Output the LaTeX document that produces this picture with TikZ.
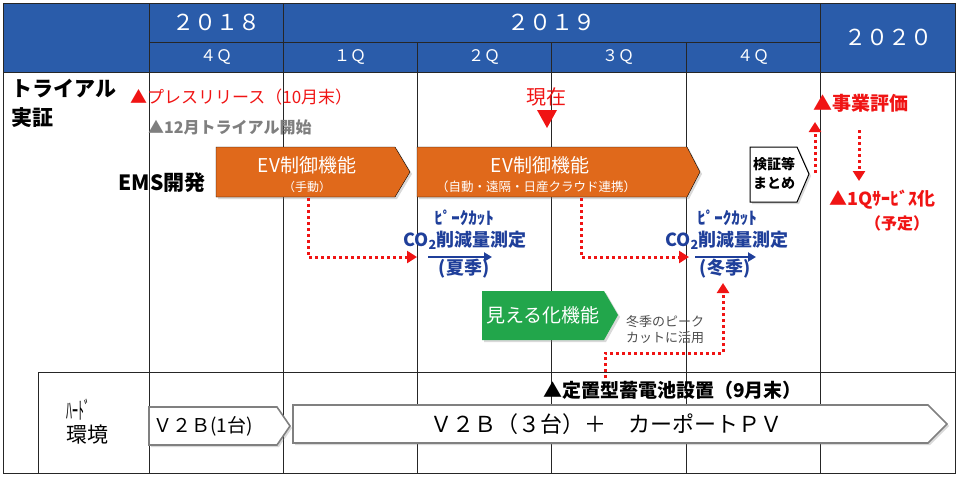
\documentclass[tikz,border=0pt]{standalone}
\usepackage{fontspec}
\setmainfont{Noto Sans CJK JP}
\usepackage{xcolor}
\usepackage{graphicx}
\definecolor{headblue}{HTML}{2A5CAA}
\definecolor{emsorange}{HTML}{E0691B}
\definecolor{viewgreen}{HTML}{22A64B}
\definecolor{navytext}{HTML}{1F3F9A}
\definecolor{alertred}{HTML}{F01414}
\definecolor{notegrey}{HTML}{7F7F7F}
\usetikzlibrary{arrows.meta,shadows}
\newcommand{\fsz}[1]{\fontsize{#1}{#1}\selectfont}

\begin{document}
\begin{tikzpicture}[x=1pt,y=-1pt,
  grid/.style={line width=0.9pt,black!85},
  hdtext/.style={text=white,inner sep=0pt,font=\fsz{22}},
  qtext/.style={text=white,inner sep=0pt,font=\fsz{16}},
  lbl/.style={inner sep=0pt,font=\bfseries\fsz{21}},
  orangebox/.style={fill=emsorange,drop shadow={opacity=0.3,shadow xshift=2pt,shadow yshift=-2pt}},
  hardbox/.style={fill=white,draw=black!50,line width=1.6pt,drop shadow={opacity=0.3,shadow xshift=2pt,shadow yshift=-2pt}},
  boxtext/.style={text=white,inner sep=0pt,font=\fsz{19}},
  subtext/.style={text=white,inner sep=0pt,font=\fsz{12}},
  bluetext/.style={text=navytext,inner sep=0pt,font=\bfseries\fsz{18}},
  redtext/.style={text=alertred,inner sep=0pt},
  reddot/.style={alertred,line width=3pt,dash pattern=on 3pt off 3pt,-{Triangle[length=10pt,width=12pt]}},
  bluearrow/.style={navytext,line width=2.4pt,-{Triangle[length=8pt,width=9pt]}}]
  \useasboundingbox (0,0) rectangle (960,479);

  % Header
  \fill[headblue] (3,3) rectangle (955,72);
  \node[hdtext] (y18) at (216,22) {２０１８};
  \node[hdtext] (y19) at (551,22) {２０１９};
  \node[hdtext] (y20) at (888,37) {２０２０};
  \node[qtext] (q4a) at (216,57) {４Ｑ};
  \node[qtext] (q1) at (350,57) {１Ｑ};
  \node[qtext] (q2) at (484,57) {２Ｑ};
  \node[qtext] (q3) at (618,57) {３Ｑ};
  \node[qtext] (q4b) at (753,57) {４Ｑ};

  % Grid
  \draw[grid] (3,3) rectangle (955,473);
  \draw[grid] (3,72) -- (955,72);
  \draw[grid] (149,42) -- (820,42);
  \foreach \x in {149,283,820} \draw[grid] (\x,3) -- (\x,473);
  \foreach \x in {417,551,686} \draw[grid] (\x,42) -- (\x,473);
  \draw[grid] (38,473) -- (38,372) -- (955,372);

  % Trial
  \node[lbl,align=left,anchor=west,font=\bfseries\fontsize{21}{29}\selectfont] (trial) at (11,103) {トライアル\\実証};
  \node[redtext,anchor=west,font=\fsz{17}] (press) at (130,97) {▲プレスリリース（10月末）};
  \node[anchor=west,inner sep=0pt,text=notegrey,font=\bfseries\fsz{16}] (start) at (148,127) {▲12月トライアル開始};
  \node[redtext,font=\fsz{20}] (now) at (546,97) {現在};
  \fill[alertred] (537,110) -- (557,110) -- (547,128) -- cycle;

  % EMS
  \node[lbl,anchor=east] (ems) at (206,183) {EMS開発};
  \draw[orangebox] (216,147) -- (395,147) -- (410,172) -- (395,197) -- (216,197) -- cycle;
  \node[boxtext] (ev1) at (307,165) {EV制御機能};
  \node[subtext] (ev1s) at (307,187) {（手動）};
  \draw[orangebox] (417,147) -- (687,147) -- (700,172) -- (687,197) -- (417,197) -- cycle;
  \node[boxtext] (ev2) at (540,165) {EV制御機能};
  \node[subtext,font=\fsz{12.5}] (ev2s) at (536,187) {（自動・遠隔・日産クラウド連携）};
  \draw[fill=white,line width=1pt,drop shadow={opacity=0.3,shadow xshift=2pt,shadow yshift=-2pt}] (750,147) -- (797,147) -- (809,174) -- (797,202) -- (750,202) -- cycle;
  \node[inner sep=0pt,align=center,font=\bfseries\fontsize{14}{19}\selectfont] (check) at (774,173) {検証等\\まとめ};

  % Peak cut measurement
  \node[bluetext,font=\bfseries\fsz{17}] (pc1) at (464,218) {ﾋﾟｰｸｶｯﾄ};
  \node[bluetext] (co1) at (465,240) {CO\textsubscript{2}削減量測定};
  \coordinate (a1s) at (428,257);
  \coordinate (a1e) at (492,257);
  \draw[bluearrow] (a1s) -- (a1e);
  \node[bluetext] (ss1) at (464,269) {(夏季)};
  \node[bluetext,font=\bfseries\fsz{17}] (pc2) at (727,218) {ﾋﾟｰｸｶｯﾄ};
  \node[bluetext] (co2) at (727,240) {CO\textsubscript{2}削減量測定};
  \coordinate (a2s) at (695,257);
  \coordinate (a2e) at (756,257);
  \draw[bluearrow] (a2s) -- (a2e);
  \node[bluetext] (ss2) at (725,269) {(冬季)};

  % Visualisation
  \draw[fill=viewgreen,drop shadow={opacity=0.3,shadow xshift=2pt,shadow yshift=-2pt},draw=none] (482,291) -- (604,291) -- (618,315) -- (604,340) -- (482,340) -- cycle;
  \node[boxtext] (view) at (543,315) {見える化機能};
  \node[anchor=west,inner sep=0pt,align=left,text=black!70,font=\fontsize{13}{16}\selectfont] (note) at (626,330) {冬季のピーク\\カットに活用};

  % 2020
  \node[redtext,anchor=west,font=\bfseries\fsz{19}] (eval) at (813,103) {▲事業評価};
  \node[redtext,anchor=west,font=\bfseries\fsz{18}] (svc) at (829,200) {▲1Qｻｰﾋﾞｽ化};
  \node[redtext,font=\bfseries\fsz{16}] (plan) at (897,223) {（予定）};

  % Dotted links
  \coordinate (d1s) at (308,198);
  \coordinate (d1e) at (417,257);
  \draw[reddot] (d1s) |- (d1e);
  \coordinate (d2s) at (581,198);
  \coordinate (d2e) at (689,257);
  \draw[reddot] (d2s) |- (d2e);
  \coordinate (d3s) at (605,378);
  \coordinate (d3m) at (723,353);
  \coordinate (d3e) at (723,283);
  \draw[reddot] (d3s) |- (d3m) -- (d3e);
  \coordinate (d4s) at (815,173);
  \coordinate (d4e) at (815,122);
  \draw[reddot] (d4s) -- (d4e);
  \coordinate (d5s) at (859,130);
  \coordinate (d5e) at (859,181);
  \draw[reddot] (d5s) -- (d5e);

  % Hardware
  \node[anchor=west,inner sep=0pt,font=\fsz{16}] (hard) at (66,410) {\scalebox{0.75}[1.5]{ﾊｰﾄﾞ}};
  \node[anchor=west,inner sep=0pt,font=\fsz{21}] (env) at (66,435) {環境};
  \node[anchor=west,inner sep=0pt,font=\bfseries\fsz{19}] (batt) at (543,390) {▲定置型蓄電池設置（9月末）};
  \draw[hardbox] (149,407) -- (277,407) -- (290,426) -- (277,445) -- (149,445) -- cycle;
  \node[anchor=west,inner sep=0pt,font=\fsz{19}] (v2b1) at (153,426) {Ｖ２Ｂ(1台)};
  \draw[hardbox] (293,405) -- (928,405) -- (947,424) -- (928,443) -- (293,443) -- cycle;
  \node[inner sep=0pt,font=\fsz{22}] (v2b3) at (606,424) {Ｖ２Ｂ（３台）＋　カーポートＰＶ};
\end{tikzpicture}
\end{document}
